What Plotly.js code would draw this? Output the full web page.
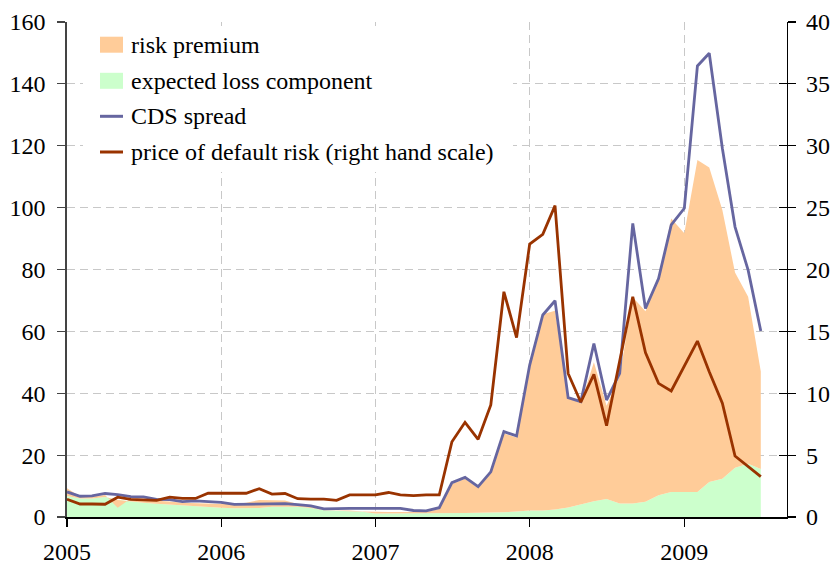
<!DOCTYPE html>
<html>
<head>
<meta charset="utf-8">
<script src="https://cdn.plot.ly/plotly-3.0.1.min.js"></script>
<style>
  html, body { margin: 0; padding: 0; background: #ffffff; }
  #chart { width: 832px; height: 566px; }
</style>
</head>
<body>
<div id="chart"></div>
<script>
// Monthly observations, January 2005 to July 2009
const months = [
  '2005-01-01','2005-02-01','2005-03-01','2005-04-01','2005-05-01','2005-06-01',
  '2005-07-01','2005-08-01','2005-09-01','2005-10-01','2005-11-01','2005-12-01',
  '2006-01-01','2006-02-01','2006-03-01','2006-04-01','2006-05-01','2006-06-01',
  '2006-07-01','2006-08-01','2006-09-01','2006-10-01','2006-11-01','2006-12-01',
  '2007-01-01','2007-02-01','2007-03-01','2007-04-01','2007-05-01','2007-06-01',
  '2007-07-01','2007-08-01','2007-09-01','2007-10-01','2007-11-01','2007-12-01',
  '2008-01-01','2008-02-01','2008-03-01','2008-04-01','2008-05-01','2008-06-01',
  '2008-07-01','2008-08-01','2008-09-01','2008-10-01','2008-11-01','2008-12-01',
  '2009-01-01','2009-02-01','2009-03-01','2009-04-01','2009-05-01','2009-06-01',
  '2009-07-01'
];

// Expected loss component (basis points, left scale)
const expectedLoss = [
  6.8, 6.0, 6.0, 6.5, 5.5, 5.0, 4.6, 4.3, 4.0, 3.7, 3.5, 3.2,
  3.0, 2.8, 2.8, 2.9, 3.3, 3.4, 3.3, 2.9, 2.2, 2.0, 1.9, 1.7,
  1.1, 1.1, 1.1, 1.1, 1.1, 1.2, 1.3, 1.3, 1.4, 1.4, 1.5, 1.8,
  2.1, 2.1, 2.4, 3.1, 4.1, 5.1, 5.8, 4.4, 4.4, 4.9, 7.0, 8.1,
  8.1, 8.1, 11.3, 12.4, 15.9, 17.2, 15.5
];

// Risk premium (basis points, stacked on the expected loss)
const riskPremium = [
  2.5, 0.6, 0.6, 0.6, -2.5, 1.0, 0.9, 1.0, 1.0, 0.9, 0.9, 1.0,
  1.2, 1.4, 1.8, 2.6, 2.2, 1.9, 0.9, 0.4, 0.1, 0.1, 0.2, 0.1,
  0.5, 0.5, 0.5, 0.5, 0.5, 1.4, 9.4, 11.1, 8.0, 12.8, 25.5, 23.9,
  45.9, 63.4, 64.3, 35.5, 32.7, 44.9, 30.2, 41.1, 66.6, 61.6, 69.6, 88.4,
  83.6, 107.3, 101.7, 86.8, 63.1, 54.0, 31.5
];

// CDS spread (basis points, left scale)
const cdsSpread = [
  8.1, 6.7, 6.8, 7.6, 7.2, 6.6, 6.5, 5.7, 5.6, 5.0, 5.2, 5.0,
  4.7, 4.1, 4.1, 4.1, 4.1, 4.3, 4.0, 3.6, 2.6, 2.8, 2.8, 2.8,
  2.8, 2.8, 2.8, 2.1, 2.0, 3.0, 11.1, 12.8, 9.8, 14.6, 27.6, 26.2,
  49.1, 65.3, 69.9, 38.6, 37.3, 56.1, 37.8, 46.4, 94.9, 67.4, 77.1, 94.4,
  99.8, 145.8, 149.9, 119.2, 93.8, 79.8, 60.1
];

// Price of default risk (right hand scale)
const priceOfDefaultRisk = [
  1.43, 1.05, 1.05, 1.03, 1.6, 1.43, 1.38, 1.35, 1.6, 1.5, 1.5, 1.92,
  1.92, 1.92, 1.92, 2.29, 1.85, 1.9, 1.48, 1.45, 1.45, 1.35, 1.78, 1.78,
  1.78, 1.98, 1.78, 1.72, 1.78, 1.78, 6.08, 7.65, 6.28, 9.05, 18.2, 14.5,
  22.06, 22.84, 25.16, 11.6, 9.27, 11.53, 7.38, 12.6, 17.8, 13.28, 10.8, 10.18,
  12.25, 14.22, 11.74, 9.19, 4.93, 4.12, 3.26
];

const yearTicks  = ['2005-01-01', '2006-01-01', '2007-01-01', '2008-01-01', '2009-01-01'];
const yearLabels = ['2005', '2006', '2007', '2008', '2009'];

const legendLabels = [
  'risk premium',
  'expected loss component',
  'CDS spread',
  'price of default risk (right hand scale)'
];

const COLORS = {
  premium: 'rgb(255,204,153)',
  loss: 'rgb(204,255,204)',
  cds: 'rgb(102,102,160)',
  price: 'rgb(153,51,0)',
  grid: 'rgb(200,200,200)'
};

const FONT = '"Liberation Serif", "Times New Roman", serif';

// plot-area geometry in pixels (used for the key box placement)
const W = 832, H = 566;
const M = { l: 67, r: 45, t: 22, b: 49 };
const plotW = W - M.l - M.r, plotH = H - M.t - M.b;
const px = x => (x - M.l) / plotW;
const py = y => (H - M.b - y) / plotH;

const traces = [
  {
    x: months, y: expectedLoss, type: 'scatter', mode: 'lines',
    stackgroup: 'cds', line: { width: 0, color: COLORS.loss },
    fillcolor: COLORS.loss, hoverinfo: 'skip', showlegend: false
  },
  {
    x: months, y: riskPremium, type: 'scatter', mode: 'lines',
    stackgroup: 'cds', line: { width: 0, color: COLORS.premium },
    fillcolor: COLORS.premium, hoverinfo: 'skip', showlegend: false
  },
  {
    x: months, y: cdsSpread, type: 'scatter', mode: 'lines',
    line: { width: 2.8, color: COLORS.cds },
    hoverinfo: 'skip', showlegend: false
  },
  {
    x: months, y: priceOfDefaultRisk, type: 'scatter', mode: 'lines',
    yaxis: 'y2', line: { width: 2.8, color: COLORS.price },
    hoverinfo: 'skip', showlegend: false
  },
  // carrier for the inward half of the right-hand ticks
  {
    x: months, y: priceOfDefaultRisk, type: 'scatter', mode: 'lines',
    yaxis: 'y3', opacity: 0, line: { width: 0 },
    hoverinfo: 'skip', showlegend: false
  }
];

// key: white box, swatches and labels
const rowY = [44.7, 80.8, 116.3, 152];
const shapes = [
  { type: 'rect', xref: 'paper', yref: 'paper', layer: 'above',
    x0: px(83), x1: px(513), y0: py(172), y1: py(26),
    fillcolor: '#ffffff', line: { width: 0 } },
  { type: 'rect', xref: 'paper', yref: 'paper', layer: 'above',
    x0: px(100), x1: px(123), y0: py(rowY[0] + 8), y1: py(rowY[0] - 8),
    fillcolor: COLORS.premium, line: { width: 0 } },
  { type: 'rect', xref: 'paper', yref: 'paper', layer: 'above',
    x0: px(100), x1: px(123), y0: py(rowY[1] + 8), y1: py(rowY[1] - 8),
    fillcolor: COLORS.loss, line: { width: 0 } },
  { type: 'line', xref: 'paper', yref: 'paper', layer: 'above',
    x0: px(100), x1: px(123), y0: py(rowY[2]), y1: py(rowY[2]),
    line: { width: 3, color: COLORS.cds } },
  { type: 'line', xref: 'paper', yref: 'paper', layer: 'above',
    x0: px(100), x1: px(123), y0: py(rowY[3]), y1: py(rowY[3]),
    line: { width: 3, color: COLORS.price } }
];
const annotations = legendLabels.map((t, i) => ({
  xref: 'paper', yref: 'paper', x: px(129), y: py(rowY[i]),
  xanchor: 'left', yanchor: 'middle', showarrow: false,
  text: t, font: { family: FONT, size: 24, color: '#000' }
}));

const layout = {
  width: W, height: H,
  margin: M,
  paper_bgcolor: '#ffffff', plot_bgcolor: '#ffffff',
  font: { family: FONT, size: 24, color: '#000' },
  showlegend: false,
  xaxis: {
    type: 'date', range: ['2005-01-01', '2009-09-01'],
    tickvals: yearTicks, ticktext: yearLabels,
    ticks: 'outside', ticklen: 8, tickcolor: '#000', tickwidth: 1.2,
    ticklabelstandoff: 5,
    showline: true, linecolor: '#000', linewidth: 1.5,
    showgrid: true, gridcolor: COLORS.grid, gridwidth: 1, griddash: '8px,5px',
    zeroline: false, fixedrange: true
  },
  yaxis: {
    range: [0, 160], tickmode: 'linear', tick0: 0, dtick: 20,
    ticks: 'outside', ticklen: 8, tickcolor: '#444', tickwidth: 1.2,
    ticklabelstandoff: 7,
    showline: true, linecolor: '#444', linewidth: 1.6,
    showgrid: true, gridcolor: COLORS.grid, gridwidth: 1, griddash: '8px,5px',
    zeroline: false, fixedrange: true
  },
  yaxis2: {
    overlaying: 'y', side: 'right', anchor: 'x',
    range: [0, 40], tickmode: 'linear', tick0: 0, dtick: 5,
    ticks: 'outside', ticklen: 8, tickcolor: '#000', tickwidth: 1.2,
    ticklabelstandoff: 5,
    showline: true, linecolor: '#000', linewidth: 1.3,
    showgrid: false, zeroline: false, fixedrange: true
  },
  yaxis3: {
    overlaying: 'y', side: 'right', anchor: 'x',
    range: [0, 40], tickmode: 'linear', tick0: 0, dtick: 5,
    ticks: 'inside', ticklen: 8, tickcolor: '#000', tickwidth: 1.2,
    showticklabels: false, showline: false,
    showgrid: false, zeroline: false, fixedrange: true
  },
  shapes: shapes,
  annotations: annotations
};

Plotly.newPlot('chart', traces, layout, { staticPlot: true, displayModeBar: false });
</script>
</body>
</html>
